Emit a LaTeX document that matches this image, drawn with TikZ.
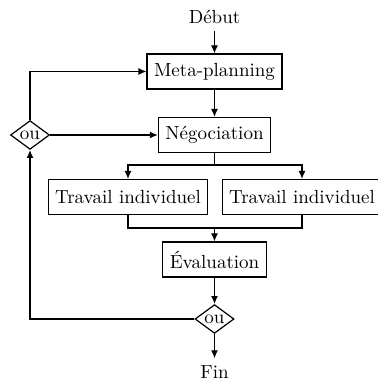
\documentclass[tikz,border=0pt]{standalone}
\usepackage{tikz}
\usetikzlibrary{shapes.geometric,positioning,arrows.meta}
\begin{document}
\begin{tikzpicture}[x=0.5pt, y=-0.5pt, >={Latex[length=4pt,width=3.5pt]}, line width=0.6pt,
      font=\fontsize{9.5}{11}\selectfont,
      boite/.style={draw, inner xsep=3.5pt, minimum height=17.5pt},
      ou/.style={draw, diamond, inner sep=0pt, minimum width=19.5pt, minimum height=13pt}]
      \useasboundingbox (0, 0) rectangle (377, 383);
      \draw (214.5, 17) node (debut) {Début}
            (214.5, 71.5) node [boite] (meta) {Meta-planning}
            (214.5, 135) node [boite] (nego) {Négociation}
            (30, 135) node [ou] (ou1) {ou}
            (128, 197) node [boite] (trav1) {Travail individuel}
            (302, 197) node [boite] (trav2) {Travail individuel}
            (214.5, 259.5) node [boite] (eval) {Évaluation}
            (214.5, 319) node [ou] (ou2) {ou}
            (214.5, 372) node (fin) {Fin};
      \coordinate (split) at (214.5, 165);
      \coordinate (join) at (214.5, 228);
      \draw[->] (debut) -- (meta);
      \draw[->] (meta) -- (nego);
      \draw[->] (ou1) -- (nego);
      \draw[->] (ou1) |- (meta);
      \draw (nego) -- (split);
      \draw[->] (split) -| (trav1);
      \draw[->] (split) -| (trav2);
      \draw (trav1) |- (join) -| (trav2);
      \draw[->] (join) -- (eval);
      \draw[->] (eval) -- (ou2);
      \draw[->] (ou2) -- (fin);
      \draw[->] (ou2) -| (ou1);
\end{tikzpicture}
\end{document}
